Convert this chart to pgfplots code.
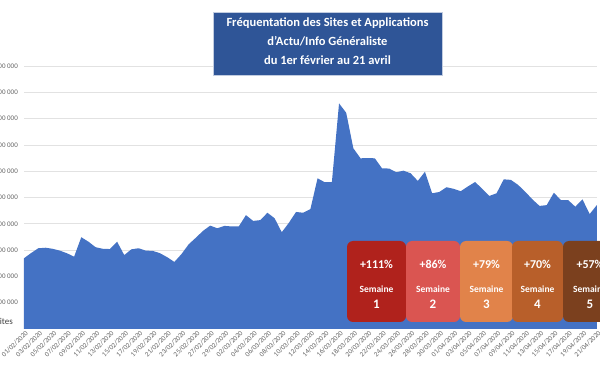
\documentclass[border=0pt]{standalone}
\usepackage{pgfplots}
\pgfplotsset{compat=1.18}
\usepackage{fontspec}
\setmainfont{Carlito}
\definecolor{areablue}{RGB}{68,114,196}
\definecolor{titleblue}{RGB}{47,85,151}
\definecolor{gridgray}{RGB}{226,226,226}
\definecolor{ticgray}{RGB}{100,100,100}
\definecolor{labgray}{RGB}{64,64,64}
\definecolor{wA}{RGB}{176,34,28}
\definecolor{wB}{RGB}{218,85,81}
\definecolor{wC}{RGB}{225,131,74}
\definecolor{wD}{RGB}{184,95,42}
\definecolor{wE}{RGB}{123,64,30}
\pgfplotstableread{
x y
0 2.69
1 2.89
2 3.07
3 3.09
4 3.05
5 2.98
6 2.88
7 2.75
8 3.49
9 3.32
10 3.11
11 3.05
12 3.04
13 3.32
14 2.81
15 3.03
16 3.07
17 2.98
18 2.97
19 2.88
20 2.73
21 2.55
22 2.85
23 3.22
24 3.47
25 3.73
26 3.93
27 3.83
28 3.92
29 3.90
30 3.90
31 4.33
32 4.11
33 4.14
34 4.42
35 4.21
36 3.68
37 4.04
38 4.45
39 4.42
40 4.56
41 5.73
42 5.58
43 5.58
44 8.58
45 8.22
46 6.87
47 6.49
48 6.50
49 6.49
50 6.11
51 6.10
52 5.96
53 6.02
54 5.92
55 5.63
56 5.98
57 5.16
58 5.21
59 5.39
60 5.33
61 5.24
62 5.42
63 5.59
64 5.33
65 5.06
66 5.16
67 5.69
68 5.67
69 5.48
70 5.22
71 4.93
72 4.68
73 4.71
74 5.18
75 4.90
76 4.90
77 4.65
78 4.93
79 4.37
80 4.71
}\visites
\begin{document}
\begin{tikzpicture}
\begin{axis}[
  x=7.16pt, y=26.3pt,
  xmin=0, xmax=80, ymin=0, ymax=10,
  clip=false,
  axis line style={draw=none},
  major tick length=0pt,
  ymajorgrids,
  grid style={draw=gridgray, line width=0.7pt},
  ytick={1,2,3,4,5,6,7,8,9,10},
  yticklabels={1 000 000,2 000 000,3 000 000,4 000 000,5 000 000,6 000 000,7 000 000,8 000 000,9 000 000,10 000 000},
  yticklabel style={font=\fontsize{7}{8}\selectfont, text=ticgray, anchor=east, inner sep=0pt, xshift=-6pt},
  xtick={0,2,...,80},
  xticklabels={01/02/2020,03/02/2020,05/02/2020,07/02/2020,09/02/2020,11/02/2020,13/02/2020,15/02/2020,17/02/2020,19/02/2020,21/02/2020,23/02/2020,25/02/2020,27/02/2020,29/02/2020,02/03/2020,04/03/2020,06/03/2020,08/03/2020,10/03/2020,12/03/2020,14/03/2020,16/03/2020,18/03/2020,20/03/2020,22/03/2020,24/03/2020,26/03/2020,28/03/2020,30/03/2020,01/04/2020,03/04/2020,05/04/2020,07/04/2020,09/04/2020,11/04/2020,13/04/2020,15/04/2020,17/04/2020,19/04/2020,21/04/2020},
  xticklabel style={font=\fontsize{7}{8}\selectfont, text=ticgray, rotate=45, anchor=east, inner sep=0pt, yshift=-4pt},
]
\addplot[fill=areablue, draw=none] table[x=x, y=y] {\visites} \closedcycle;
\coordinate (O) at (axis cs:0,0);
\end{axis}
\begin{scope}[x=1pt, y=-1pt, shift={(O)}, shift={(-24,-329)}]
  \fill[titleblue] (213,12) rectangle (442,75);
  \draw[white!70!titleblue, line width=0.6pt] (213,12) rectangle (442,75);
  \node[text=white, font=\bfseries\fontsize{12.5}{19}\selectfont, align=center] at (327.5,41)
    {Fréquentation des Sites et Applications\\d'Actu/Info Généraliste\\du 1er février au 21 avril};
  \foreach \xa/\xb/\col/\pct/\n in {347/406/wA/+111\%/1, 406/460/wB/+86\%/2, 460/513/wC/+79\%/3, 512/563/wD/+70\%/4, 563/617/wE/+57\%/5}{
    \fill[\col, rounded corners=6pt] (\xa,241) rectangle (\xb,322);
    \node[text=white, font=\bfseries\fontsize{12}{14}\selectfont] at ({(\xa+\xb)/2},264) {\pct};
    \node[text=white, font=\bfseries\fontsize{9.5}{11}\selectfont] at ({(\xa+\xb)/2},289) {Semaine};
    \node[text=white, font=\bfseries\fontsize{13}{15}\selectfont] at ({(\xa+\xb)/2},304.5) {\n};
  }
  \node[anchor=east, inner sep=0pt, text=labgray, font=\fontsize{9}{10}\selectfont] at (13,321) {Visites};
  \pgfresetboundingbox
  \path[use as bounding box] (0,0) rectangle (600,372);
\end{scope}
\end{tikzpicture}
\end{document}
